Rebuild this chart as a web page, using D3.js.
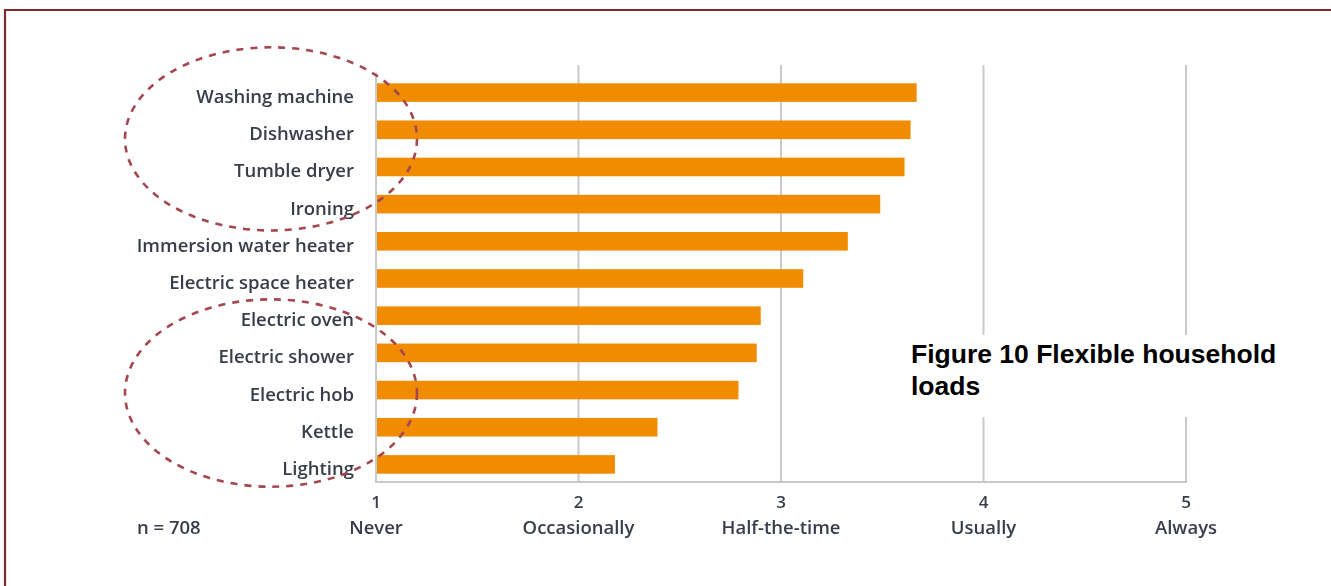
<!DOCTYPE html>
<html>
<head>
<meta charset="utf-8">
<script src="https://cdn.jsdelivr.net/npm/d3@7/dist/d3.min.js"></script>
<style>
  html, body { margin: 0; padding: 0; background: #fff; }
  svg { display: block; }
</style>
</head>
<body>
<svg id="chart" width="1331" height="586"></svg>
<script>
// Appliances, top to bottom
const appliances = [
  "Washing machine", "Dishwasher", "Tumble dryer", "Ironing",
  "Immersion water heater", "Electric space heater", "Electric oven",
  "Electric shower", "Electric hob", "Kettle", "Lighting"
];
// Mean flexibility score (1 = Never ... 5 = Always)
const scores = [3.67, 3.64, 3.61, 3.49, 3.33, 3.11, 2.90, 2.88, 2.79, 2.39, 2.18];
// Scale ticks and their wording
const tickValues = [1, 2, 3, 4, 5];
const tickNames = ["Never", "Occasionally", "Half-the-time", "Usually", "Always"];
// Circled groups of appliances
const groupA = ["Washing machine", "Dishwasher", "Tumble dryer", "Ironing"];
const groupB = ["Electric oven", "Electric shower", "Electric hob", "Kettle", "Lighting"];
const sampleNote = "n = 708";
const captionLines = ["Figure 10 Flexible household", "loads"];

const svg = d3.select("#chart");

const defs = svg.append("defs");
defs.append("filter").attr("id", "soft")
  .attr("x", "-5%").attr("y", "-5%").attr("width", "110%").attr("height", "110%")
  .append("feGaussianBlur").attr("stdDeviation", 0.55);

// Frame (top and left edges are visible)
svg.append("path")
  .attr("d", "M5,586 V10 H1331")
  .attr("fill", "none")
  .attr("stroke", "#7b2b2e")
  .attr("stroke-width", 2.2);

const x = d3.scaleLinear().domain([1, 5]).range([376, 1186]);
const y = d3.scaleBand().domain(appliances).range([74, 483])
  .paddingInner(0.5).paddingOuter(0.25);

const plotTop = 65, plotBottom = 482;
const g = svg.append("g").attr("filter", "url(#soft)");

const gridColor = "#c9c9c5";
const labelColor = "#383c4a";
const labelFont = "'Open Sans', 'Noto Sans', sans-serif";
const labelSize = 18.5;

// Vertical gridlines
g.append("g").selectAll("line")
  .data(tickValues.slice(1))
  .join("line")
  .attr("x1", d => x(d)).attr("x2", d => x(d))
  .attr("y1", plotTop).attr("y2", plotBottom)
  .attr("stroke", gridColor).attr("stroke-width", 2);

// Axis lines
g.append("line")
  .attr("x1", x(1)).attr("x2", x(1))
  .attr("y1", 73).attr("y2", plotBottom + 1)
  .attr("stroke", gridColor).attr("stroke-width", 2);
g.append("line")
  .attr("x1", x(1) - 1).attr("x2", x(5) + 1)
  .attr("y1", plotBottom).attr("y2", plotBottom)
  .attr("stroke", gridColor).attr("stroke-width", 2);

// Bars
g.append("g").selectAll("rect")
  .data(appliances.map((a, i) => ({ a, v: scores[i] })))
  .join("rect")
  .attr("x", x(1) + 1)
  .attr("y", d => y(d.a))
  .attr("width", d => x(d.v) - x(1) - 1)
  .attr("height", y.bandwidth())
  .attr("fill", "#f18c00");

// Category labels
g.append("g").selectAll("text")
  .data(appliances)
  .join("text")
  .attr("x", x(1) - 22)
  .attr("y", d => y(d) + y.bandwidth() / 2 + 4)
  .attr("dy", "0.35em")
  .attr("text-anchor", "end")
  .attr("font-family", labelFont)
  .attr("font-weight", 600)
  .attr("font-size", labelSize)
  .attr("fill", labelColor)
  .text(d => d);

// Tick numbers and names
const ticks = g.append("g").selectAll("g")
  .data(tickValues)
  .join("g")
  .attr("transform", d => `translate(${x(d)},0)`);
ticks.append("text")
  .attr("y", 508)
  .attr("text-anchor", "middle")
  .attr("font-family", labelFont)
  .attr("font-weight", 600)
  .attr("font-size", 17)
  .attr("fill", labelColor)
  .text(d => d);
ticks.append("text")
  .attr("y", 534)
  .attr("text-anchor", "middle")
  .attr("font-family", labelFont)
  .attr("font-weight", 600)
  .attr("font-size", labelSize)
  .attr("fill", labelColor)
  .text((d, i) => tickNames[i]);

g.append("text")
  .attr("x", 137).attr("y", 534)
  .attr("font-family", labelFont)
  .attr("font-weight", 600)
  .attr("font-size", labelSize)
  .attr("fill", labelColor)
  .text(sampleNote);

// Dashed ellipses around the two appliance groups
function groupEllipse(names, padTop, padBottom) {
  const top = y(names[0]) - padTop;
  const bottom = y(names[names.length - 1]) + y.bandwidth() + padBottom;
  return { cx: x(1) - 105, cy: (top + bottom) / 2, rx: 146, ry: (bottom - top) / 2 };
}
const ellipses = [groupEllipse(groupA, 36, 17), groupEllipse(groupB, 7, 13)];
g.append("g").selectAll("ellipse")
  .data(ellipses)
  .join("ellipse")
  .attr("cx", d => d.cx).attr("cy", d => d.cy)
  .attr("rx", d => d.rx).attr("ry", d => d.ry)
  .attr("fill", "none")
  .attr("stroke", "#a4464f")
  .attr("stroke-width", 2.6)
  .attr("stroke-dasharray", "7 7");

// Caption panel over the right of the plot
svg.append("rect")
  .attr("x", 890).attr("y", 335)
  .attr("width", 410).attr("height", 82)
  .attr("fill", "#fff");
svg.append("text")
  .attr("font-family", "'Liberation Sans', Arial, sans-serif")
  .attr("font-weight", "bold")
  .attr("font-size", 26.5)
  .attr("fill", "#000")
  .selectAll("tspan")
  .data(captionLines)
  .join("tspan")
  .attr("x", 911)
  .attr("y", (d, i) => 363 + i * 32)
  .text(d => d);
</script>
</body>
</html>
